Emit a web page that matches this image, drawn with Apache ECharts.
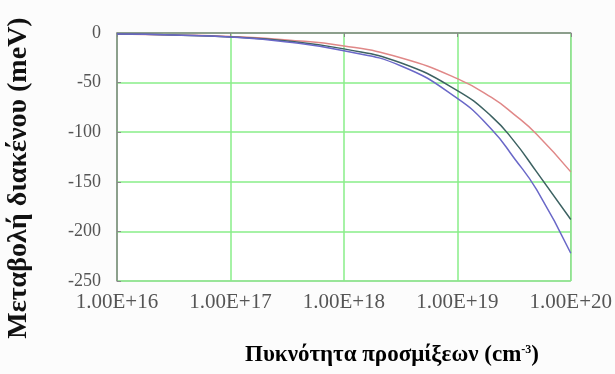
<!DOCTYPE html>
<html>
<head>
<meta charset="utf-8">
<script src="https://cdn.jsdelivr.net/npm/echarts@6/dist/echarts.min.js"></script>
<style>
html,body{margin:0;padding:0;background:#fcfcfc;}
#c{width:615px;height:374px;}
</style>
</head>
<body>
<div id="c"></div>
<script>
var concentrations = [1e16, 3.16e16, 1e17, 3.16e17, 1e18, 3.16e18, 1e19, 2e19, 3.16e19, 5e19, 1e20];
var seriesRed   = [-1, -2, -3.5, -7, -13, -25, -46, -65, -82, -102, -140];
var seriesDark  = [-1, -2, -4, -8, -16, -30, -58, -84, -109, -140, -188];
var seriesBlue  = [-1, -2, -4, -9, -18, -33, -66, -97, -126, -158, -222];
var xTickLabels = {16: '1.00E+16', 17: '1.00E+17', 18: '1.00E+18', 19: '1.00E+19', 20: '1.00E+20'};
var yTitle = 'Μεταβολή διακένου (meV)';
var xTitle = 'Πυκνότητα προσμίξεων (cm';

function pairs(vals){ return concentrations.map(function(x,i){ return [Math.log10(x), vals[i]]; }); }

var chart = echarts.init(document.getElementById('c'));
var serif = '"Liberation Serif", "DejaVu Serif", serif';
chart.setOption({
  backgroundColor: '#fcfcfc',
  animation: false,
  grid: {left: 117, right: 43, top: 33, bottom: 93, show: true, backgroundColor: '#ffffff', borderColor: '#999', borderWidth: 1},
  xAxis: {
    type: 'value', min: 16, max: 20, interval: 1,
    axisLine: {lineStyle: {color: '#888', width: 1.5}},
    axisTick: {show: true, inside: false, length: 4, lineStyle: {color: '#888'}},
    splitLine: {show: true, lineStyle: {color: '#88ee88', width: 1.5}},
    axisLabel: {
      fontFamily: serif, fontSize: 21, color: '#555', margin: 11,
      formatter: function(v){ return xTickLabels[Math.round(v)] || ''; }
    }
  },
  yAxis: {
    type: 'value', min: -250, max: 0, interval: 50,
    axisLine: {show: true, lineStyle: {color: '#888', width: 1.5}},
    axisTick: {show: true, inside: true, length: 4, lineStyle: {color: '#888'}},
    splitLine: {show: true, lineStyle: {color: '#88ee88', width: 1.5}},
    axisLabel: {fontFamily: serif, fontSize: 18, color: '#555', margin: 16}
  },
  graphic: [
    {type: 'text', x: 19, y: 178, rotation: Math.PI/2, style: {
      text: yTitle, fontFamily: serif, fontWeight: 'bold', fontSize: 28, fill: '#111',
      textAlign: 'center', textVerticalAlign: 'middle'}},
    {type: 'text', x: 392, y: 355, style: {
      text: '{a|' + xTitle + '}{s|-3}{a|)}',
      rich: {
        a: {fontFamily: serif, fontWeight: 'bold', fontSize: 23, color: '#111'},
        s: {fontFamily: serif, fontWeight: 'bold', fontSize: 12, color: '#111', verticalAlign: 'top', padding: [0,0,10,0]}
      },
      textAlign: 'center', textVerticalAlign: 'middle'}}
  ],
  series: [
    {type: 'line', data: pairs(seriesRed), smooth: 0.5, showSymbol: false, lineStyle: {color: '#e08888', width: 1.5}, z: 3},
    {type: 'line', data: pairs(seriesDark), smooth: 0.5, showSymbol: false, lineStyle: {color: '#3d6262', width: 1.5}, z: 4},
    {type: 'line', data: pairs(seriesBlue), smooth: 0.5, showSymbol: false, lineStyle: {color: '#6a68c8', width: 1.5}, z: 5}
  ]
});
</script>
</body>
</html>
